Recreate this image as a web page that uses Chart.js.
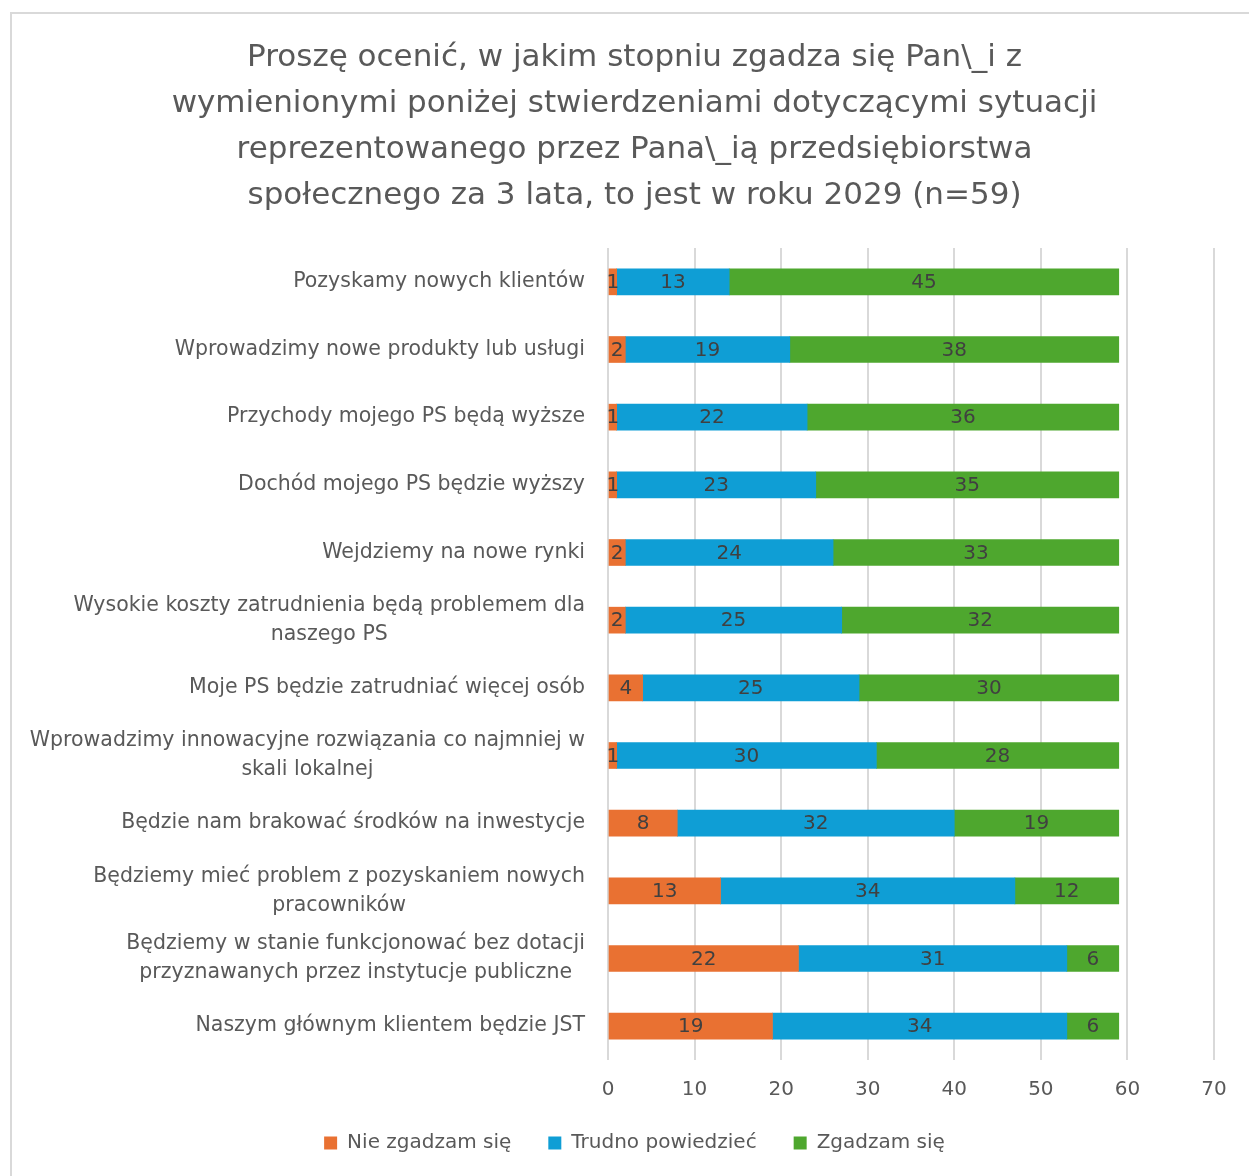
<!DOCTYPE html>
<html>
<head>
<meta charset="utf-8">
<script src="https://cdn.jsdelivr.net/npm/chart.js@4"></script>
<style>
  html, body { margin: 0; padding: 0; background: #fff; }
  #wrap { width: 1249px; height: 1176px; }
</style>
</head>
<body>
<div id="wrap"><canvas id="survey"></canvas></div>
<script>
var categories = [
  "Pozyskamy nowych klientów",
  "Wprowadzimy nowe produkty lub usługi",
  "Przychody mojego PS będą wyższe",
  "Dochód mojego PS będzie wyższy",
  "Wejdziemy na nowe rynki",
  ["Wysokie koszty zatrudnienia będą problemem dla", "naszego PS"],
  "Moje PS będzie zatrudniać więcej osób",
  ["Wprowadzimy innowacyjne rozwiązania co najmniej w", "skali lokalnej"],
  "Będzie nam brakować środków na inwestycje",
  ["Będziemy mieć problem z pozyskaniem nowych", "pracowników"],
  ["Będziemy w stanie funkcjonować bez dotacji", "przyznawanych przez instytucje publiczne"],
  "Naszym głównym klientem będzie JST"
];
var seriesNames = ["Nie zgadzam się", "Trudno powiedzieć", "Zgadzam się"];
var disagree = [1, 2, 1, 1, 2, 2, 4, 1, 8, 13, 22, 19];
var unsure   = [13, 19, 22, 23, 24, 25, 25, 30, 32, 34, 31, 34];
var agree    = [45, 38, 36, 35, 33, 32, 30, 28, 19, 12, 6, 6];
var xTicks = [0, 10, 20, 30, 40, 50, 60, 70];
var titleLines = [
  "Proszę ocenić, w jakim stopniu zgadza się Pan\\_i z",
  "wymienionymi poniżej stwierdzeniami dotyczącymi sytuacji",
  "reprezentowanego przez Pana\\_ią przedsiębiorstwa",
  "społecznego za 3 lata, to jest w roku 2029 (n=59)"
];

var FONT = "'DejaVu Sans', 'Open Sans', sans-serif";
var TEXT = "#595959";

// light frame around the whole chart
var framePlugin = {
  id: "frame",
  beforeDraw: function (chart) {
    var ctx = chart.ctx;
    ctx.save();
    ctx.fillStyle = "#fff";
    ctx.fillRect(0, 0, chart.width, chart.height);
    ctx.strokeStyle = "#d9d9d9";
    ctx.lineWidth = 2;
    ctx.strokeRect(11, 13, chart.width, chart.height);
    ctx.restore();
  }
};

// category names: block right-aligned to the axis, wrapped lines centred
var categoryLabels = {
  id: "categoryLabels",
  afterDraw: function (chart) {
    var ctx = chart.ctx;
    var y = chart.scales.y;
    var right = chart.chartArea.left - 23;
    var lh = 29;
    ctx.save();
    ctx.font = "20.5px " + FONT;
    ctx.fillStyle = TEXT;
    ctx.textAlign = "center";
    ctx.textBaseline = "middle";
    categories.forEach(function (label, i) {
      var lines = Array.isArray(label) ? label : [label];
      var w = Math.max.apply(null, lines.map(function (s) { return ctx.measureText(s).width; }));
      var cy = y.getPixelForTick(i) - (lines.length - 1) * lh / 2;
      lines.forEach(function (s, k) {
        ctx.fillText(s, right - w / 2, cy + k * lh);
      });
    });
    ctx.restore();
  }
};

// value printed in the middle of every segment
var valueLabels = {
  id: "valueLabels",
  afterDatasetsDraw: function (chart) {
    var ctx = chart.ctx;
    ctx.save();
    ctx.font = "20px " + FONT;
    ctx.fillStyle = "#404040";
    ctx.textAlign = "center";
    ctx.textBaseline = "middle";
    chart.data.datasets.forEach(function (ds, i) {
      chart.getDatasetMeta(i).data.forEach(function (bar, j) {
        var p = bar.getProps(["x", "y", "base"], true);
        ctx.fillText(String(ds.data[j]), (p.x + p.base) / 2, p.y + 1);
      });
    });
    ctx.restore();
  }
};

new Chart("survey", {
  type: "bar",
  data: {
    labels: categories,
    datasets: [
      { label: seriesNames[0], data: disagree, backgroundColor: "#E97132" },
      { label: seriesNames[1], data: unsure, backgroundColor: "#0F9ED5" },
      { label: seriesNames[2], data: agree, backgroundColor: "#4EA72E" }
    ]
  },
  plugins: [framePlugin, categoryLabels, valueLabels],
  options: {
    indexAxis: "y",
    responsive: true,
    maintainAspectRatio: false,
    animation: false,
    layout: { padding: { left: 20, right: 0, top: 0, bottom: 13 } },
    datasets: { bar: { barThickness: 26 } },
    scales: {
      x: {
        stacked: true,
        min: 0,
        max: 70,
        afterBuildTicks: function (scale) {
          scale.ticks = xTicks.map(function (v) { return { value: v }; });
        },
        afterFit: function (scale) {
          scale.height = 36;
          scale.paddingRight = 35;
        },
        grid: { color: "#d9d9d9", lineWidth: 2, drawTicks: false },
        border: { display: false },
        ticks: { color: TEXT, font: { family: FONT, size: 20 }, padding: 18 }
      },
      y: {
        stacked: true,
        afterFit: function (scale) { scale.width = 588; },
        grid: { display: false },
        border: { display: false },
        ticks: { display: false }
      }
    },
    plugins: {
      title: {
        display: true,
        text: titleLines,
        color: TEXT,
        font: { family: FONT, size: 31, weight: "normal", lineHeight: 46 / 31 },
        padding: { top: 35, bottom: 29 }
      },
      legend: {
        position: "bottom",
        labels: {
          color: TEXT,
          font: { family: FONT, size: 20 },
          boxWidth: 13,
          boxHeight: 13,
          padding: 37
        }
      },
      tooltip: { enabled: false }
    }
  }
});
</script>
</body>
</html>
